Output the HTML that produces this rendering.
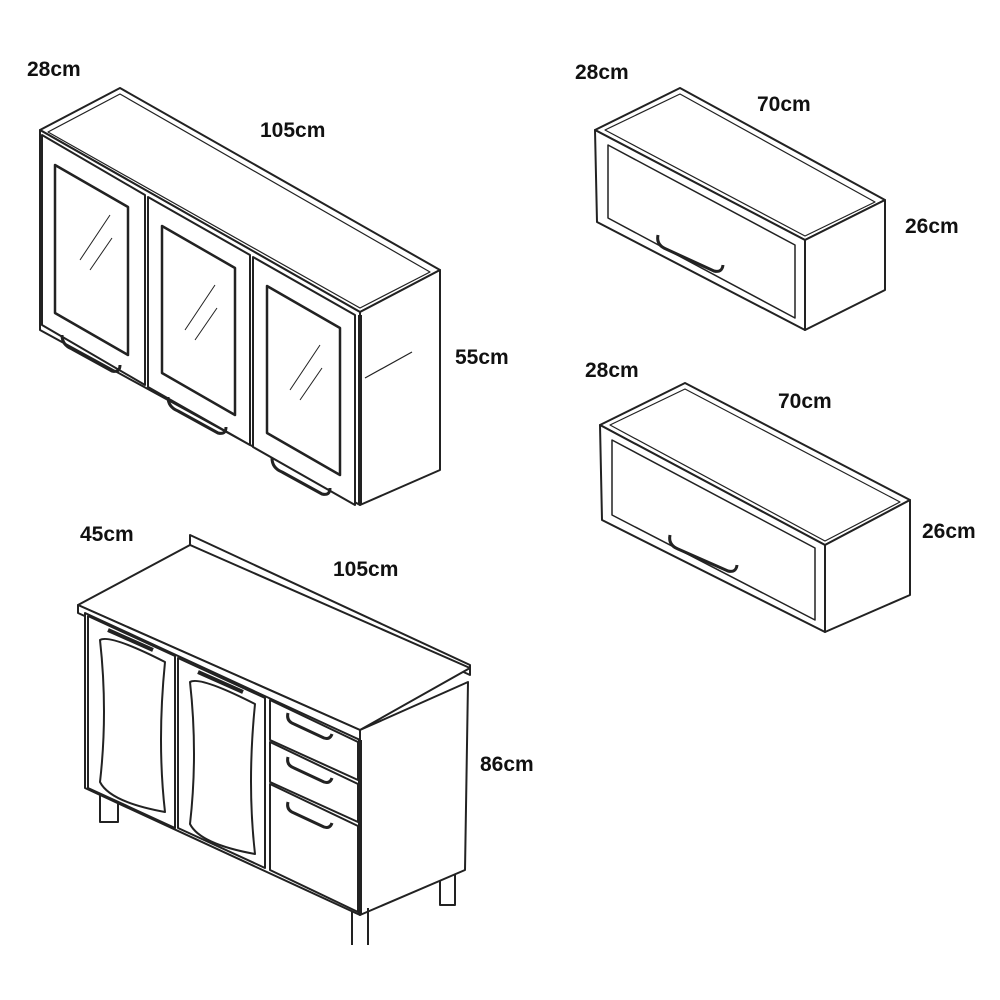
<!DOCTYPE html>
<html><head><meta charset="utf-8"><style>
html,body{margin:0;padding:0;background:#fff}
svg{display:block}
text{font-family:"Liberation Sans",sans-serif;font-weight:bold;font-size:21px;fill:#111}
</style></head><body>
<svg width="1000" height="1000" viewBox="0 0 1000 1000" xmlns="http://www.w3.org/2000/svg">
<g fill="#fff" stroke="#222" stroke-width="2" stroke-linejoin="round">
<!-- Cabinet 1 -->
<polygon points="40,130 120,88 440,270 360,312"/>
<polygon points="48,132 120,94 430,272 360,308" fill="none" stroke-width="1.2"/>
<polygon points="40,130 360,312 360,505 40,330"/>
<polygon points="360,312 440,270 440,470 360,505"/>
<line x1="360" y1="315" x2="360" y2="505" stroke-width="4"/>
<polygon points="42,135 145,195 145,385 42,325"/>
<polygon points="55,165 128,207 128,355 55,313" stroke-width="2.5"/>
<polygon points="148,197 250,255 250,445 148,387"/>
<polygon points="162,226 235,268 235,415 162,373" stroke-width="2.5"/>
<polygon points="253,257 355,315 355,505 253,447"/>
<polygon points="267,286 340,328 340,475 267,433" stroke-width="2.5"/>
<path d="M62,335 q0,10 10,14 l40,22 q8,2 8,-6" fill="none" stroke-width="3"/>
<path d="M168,397 q0,10 10,14 l40,22 q8,2 8,-6" fill="none" stroke-width="3"/>
<path d="M272,458 q0,10 10,14 l40,22 q8,2 8,-6" fill="none" stroke-width="3"/>
<path d="M80,260 l30,-45 M90,270 l22,-32 M185,330 l30,-45 M195,340 l22,-32 M290,390 l30,-45 M300,400 l22,-32" stroke-width="1"/>
<line x1="365" y1="378" x2="412" y2="352" stroke-width="1.2"/>
<!-- Cabinet 2 -->
<polygon points="595,130 680,88 885,200 805,240"/>
<polygon points="605,130 680,94 875,202 805,236" fill="none" stroke-width="1.2"/>
<polygon points="595,130 805,240 805,330 597,222"/>
<polygon points="805,240 885,200 885,290 805,330"/>
<polygon points="608,145 795,245 795,318 608,218" fill="none" stroke-width="1.5"/>
<path d="M658,235 q-2,10 8,14 l48,22 q8,2 9,-6" fill="none" stroke-width="3"/>
<!-- Cabinet 3 -->
<polygon points="600,425 685,383 910,500 825,545"/>
<polygon points="610,425 685,389 900,502 825,541" fill="none" stroke-width="1.2"/>
<polygon points="600,425 825,545 825,632 602,520"/>
<polygon points="825,545 910,500 910,595 825,632"/>
<polygon points="612,440 815,548 815,620 612,515" fill="none" stroke-width="1.5"/>
<path d="M670,535 q-2,10 8,14 l50,22 q8,2 9,-6" fill="none" stroke-width="3"/>
<!-- Base cabinet legs -->
<path d="M100,780 v42 h18 v-35 M440,860 v45 h15 v-45" fill="#fff"/>
<!-- Base cabinet -->
<polygon points="190,535 470,665 470,675 190,545" />
<polygon points="78,605 190,545 470,668 360,730"/>
<polygon points="78,605 360,730 360,740 78,613"/>
<polygon points="85,613 360,740 360,915 85,788"/>
<polygon points="360,730 468,682 465,870 360,915"/>
<line x1="360" y1="740" x2="360" y2="915" stroke-width="4"/>
<polygon points="88,616 175,656 175,828 88,788"/>
<path d="M100,640 q10,-6 65,22 q-8,80 0,150 q-55,-10 -65,-30 q8,-70 0,-142z" fill="none"/>
<polygon points="178,658 265,698 265,868 178,828"/>
<path d="M190,682 q10,-6 65,22 q-8,80 0,150 q-55,-10 -65,-30 q8,-70 0,-142z" fill="none"/>
<polygon points="270,700 358,742 358,780 270,740"/>
<polygon points="270,742 358,784 358,822 270,782"/>
<polygon points="270,784 358,826 358,912 270,870"/>
<path d="M108,630 l45,20 M198,672 l45,20" stroke-width="4"/>
<path d="M288,713 q-2,8 6,11 l30,14 q6,2 8,-4 M288,757 q-2,8 6,11 l30,14 q6,2 8,-4 M288,802 q-2,8 6,11 l30,14 q6,2 8,-4" fill="none" stroke-width="3"/>
<path d="M352,912 v33 M368,908 v37" fill="none"/>
</g>
<text x="27" y="76">28cm</text>
<text x="260" y="137">105cm</text>
<text x="455" y="364">55cm</text>
<text x="575" y="79">28cm</text>
<text x="757" y="111">70cm</text>
<text x="905" y="233">26cm</text>
<text x="585" y="377">28cm</text>
<text x="778" y="408">70cm</text>
<text x="922" y="538">26cm</text>
<text x="80" y="541">45cm</text>
<text x="333" y="576">105cm</text>
<text x="480" y="771">86cm</text>
</svg>
</body></html>
